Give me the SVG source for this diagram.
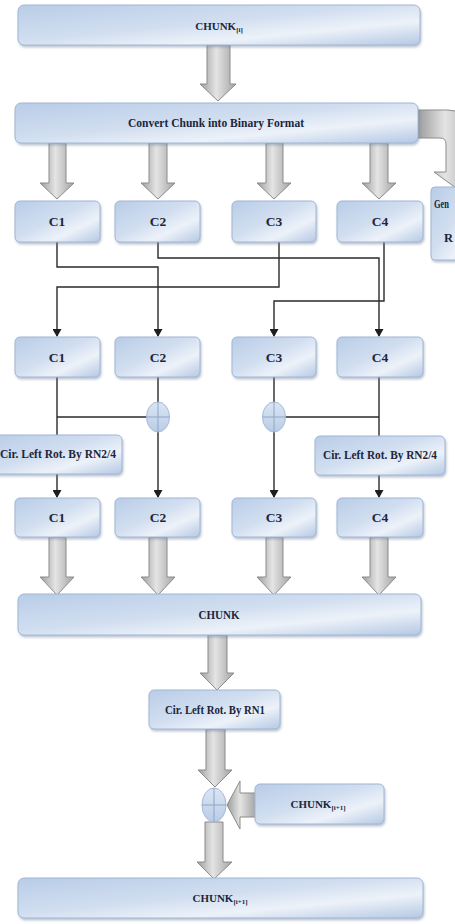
<svg xmlns="http://www.w3.org/2000/svg" width="455" height="924" viewBox="0 0 455 924">
  <defs>
    <linearGradient id="boxFill" x1="0" y1="0" x2="1" y2="1">
      <stop offset="0" stop-color="#b9cde7"/>
      <stop offset="0.45" stop-color="#d1def0"/>
      <stop offset="0.7" stop-color="#edf2f9"/>
      <stop offset="1" stop-color="#b4c8e4"/>
    </linearGradient>
    <linearGradient id="arrowFill" x1="0" y1="0" x2="1" y2="0">
      <stop offset="0" stop-color="#9c9c9c"/>
      <stop offset="0.45" stop-color="#e4e4e4"/>
      <stop offset="1" stop-color="#a3a3a3"/>
    </linearGradient>
    <linearGradient id="xorFill" x1="0" y1="0" x2="0" y2="1">
      <stop offset="0" stop-color="#dbe6f4"/>
      <stop offset="1" stop-color="#b9cce6"/>
    </linearGradient>
    <filter id="shadow" x="-10%" y="-20%" width="120%" height="150%">
      <feDropShadow dx="1" dy="2" stdDeviation="1.3" flood-color="#6f819c" flood-opacity="0.45"/>
    </filter>
    <marker id="tip" markerWidth="8" markerHeight="9" refX="7" refY="4.5" orient="auto" markerUnits="userSpaceOnUse">
      <path d="M0,0 L8,4.5 L0,9 Z" fill="#1e1e1e"/>
    </marker>
  </defs>
  <style>
    .box { fill: url(#boxFill); stroke: #a0b6d5; stroke-width: 1; filter: url(#shadow); }
    .blk { fill: url(#arrowFill); stroke: #8b8b8b; stroke-width: 1; }
    .wire { fill: none; stroke: #2a2a2a; stroke-width: 1.4; }
    .xor { fill: url(#xorFill); stroke: #a5b9d6; stroke-width: 1; }
    .xorx { stroke: #8ea6c7; stroke-width: 1; }
    text { font-family: "Liberation Serif", "Times New Roman", serif; font-weight: bold; font-size: 12.5px; fill: #20263a; text-anchor: middle; }
    .c { font-size: 13.5px; }
    .ck { font-size: 11px; }
    .sub { font-size: 7px; }
  </style>

  <!-- connectors: thin wires -->
  <g id="connectors">
    <path class="wire" d="M57,242 V267 H158 V336" marker-end="url(#tip)"/>
    <path class="wire" d="M158,242 V258 H379 V336" marker-end="url(#tip)"/>
    <path class="wire" d="M279,242 V287 H57 V336" marker-end="url(#tip)"/>
    <path class="wire" d="M384,242 V301 H274 V336" marker-end="url(#tip)"/>

    <path class="wire" d="M57,377 V497" marker-end="url(#tip)"/>
    <path class="wire" d="M57,417 H147"/>
    <path class="wire" d="M158,377 V497" marker-end="url(#tip)"/>
    <path class="wire" d="M274,377 V497" marker-end="url(#tip)"/>
    <path class="wire" d="M379,377 V497" marker-end="url(#tip)"/>
    <path class="wire" d="M379,417 H286"/>

    <!-- block arrows -->
    <path class="blk" d="M207,45 H230 V84 H236 L218,101 L200,84 H207 Z"/>
    <path class="blk" d="M418,110 H448 Q466,110 466,128 V172 H478 L456,188 L434,172 H446 V144 Q446,138 440,138 H418 Z"/>

    <path class="blk" d="M49,143 H66 V183 H74 L57,199 L40,183 H49 Z"/>
    <path class="blk" d="M149,143 H167 V183 H175 L158,199 L141,183 H149 Z"/>
    <path class="blk" d="M266,143 H283 V183 H291 L274,199 L257,183 H266 Z"/>
    <path class="blk" d="M370,143 H388 V183 H396 L379,199 L362,183 H370 Z"/>

    <path class="blk" d="M49,537 H66 V577 H74 L57,595 L40,577 H49 Z"/>
    <path class="blk" d="M149,537 H167 V577 H175 L158,595 L141,577 H149 Z"/>
    <path class="blk" d="M266,537 H283 V577 H291 L274,595 L257,577 H266 Z"/>
    <path class="blk" d="M370,537 H388 V577 H396 L379,595 L362,577 H370 Z"/>

    <path class="blk" d="M208,635 H227 V673 H234 L217,690 L200,673 H208 Z"/>
    <path class="blk" d="M206,729 H225 V770 H232 L215,787 L198,770 H206 Z"/>
    <path class="blk" d="M256,793 H240 V781 L227,805 L240,829 V817 H256 Z"/>
    <path class="blk" d="M205,822 H223 V862 H232 L214,879 L197,862 H205 Z"/>
  </g>

  <!-- input chunk -->
  <g id="chunk-in">
    <rect class="box" x="18" y="5" width="402" height="40" rx="6"/>
    <text class="ck" x="219" y="30">CHUNK<tspan class="sub" dy="2">[i]</tspan></text>
  </g>

  <g id="convert">
    <rect class="box" x="15" y="103" width="403" height="40" rx="6"/>
    <text x="216" y="127" textLength="176" lengthAdjust="spacingAndGlyphs">Convert Chunk into Binary Format</text>
  </g>

  <g id="generate">
    <rect class="box" x="431" y="187" width="50" height="73" rx="4"/>
    <text x="434" y="208" style="text-anchor:start" textLength="15" lengthAdjust="spacingAndGlyphs">Gen</text>
    <text x="444" y="242" style="text-anchor:start">R</text>
  </g>

  <!-- split blocks -->
  <g id="a1"><rect class="box" x="15" y="201" width="85" height="41" rx="5"/><text class="c" x="57" y="226">C1</text></g>
  <g id="a2"><rect class="box" x="115" y="201" width="85" height="41" rx="5"/><text class="c" x="158" y="226">C2</text></g>
  <g id="a3"><rect class="box" x="232" y="201" width="84" height="41" rx="5"/><text class="c" x="274" y="226">C3</text></g>
  <g id="a4"><rect class="box" x="337" y="201" width="86" height="41" rx="5"/><text class="c" x="380" y="226">C4</text></g>

  <!-- shuffled blocks -->
  <g id="b1"><rect class="box" x="15" y="337" width="85" height="40" rx="5"/><text class="c" x="57" y="362">C1</text></g>
  <g id="b2"><rect class="box" x="115" y="337" width="85" height="40" rx="5"/><text class="c" x="158" y="362">C2</text></g>
  <g id="b3"><rect class="box" x="232" y="337" width="84" height="40" rx="5"/><text class="c" x="274" y="362">C3</text></g>
  <g id="b4"><rect class="box" x="337" y="337" width="86" height="40" rx="5"/><text class="c" x="380" y="362">C4</text></g>

  <!-- xor gates -->
  <g id="xor-left">
    <ellipse class="xor" cx="158" cy="417" rx="11.5" ry="15"/>
    <line class="xorx" x1="146.5" y1="417" x2="169.5" y2="417"/>
    <line class="xorx" x1="158" y1="402" x2="158" y2="432"/>
  </g>
  <g id="xor-right">
    <ellipse class="xor" cx="274" cy="417" rx="11.5" ry="15"/>
    <line class="xorx" x1="262.5" y1="417" x2="285.5" y2="417"/>
    <line class="xorx" x1="274" y1="402" x2="274" y2="432"/>
  </g>

  <g id="rot-left">
    <rect class="box" x="-10" y="435" width="132" height="39" rx="5"/>
    <text x="58" y="458" textLength="116" lengthAdjust="spacingAndGlyphs">Cir. Left Rot. By RN2/4</text>
  </g>
  <g id="rot-right">
    <rect class="box" x="315" y="436" width="130" height="39" rx="5"/>
    <text x="380" y="459" textLength="114" lengthAdjust="spacingAndGlyphs">Cir. Left Rot. By RN2/4</text>
  </g>

  <!-- rotated blocks -->
  <g id="c1"><rect class="box" x="15" y="498" width="85" height="39" rx="5"/><text class="c" x="57" y="522">C1</text></g>
  <g id="c2"><rect class="box" x="115" y="498" width="85" height="39" rx="5"/><text class="c" x="158" y="522">C2</text></g>
  <g id="c3"><rect class="box" x="232" y="498" width="84" height="39" rx="5"/><text class="c" x="274" y="522">C3</text></g>
  <g id="c4"><rect class="box" x="337" y="498" width="86" height="39" rx="5"/><text class="c" x="380" y="522">C4</text></g>

  <g id="chunk-merged">
    <rect class="box" x="18" y="594" width="403" height="41" rx="6"/>
    <text class="c" x="219" y="619" textLength="41" lengthAdjust="spacingAndGlyphs">CHUNK</text>
  </g>

  <g id="rot-rn1">
    <rect class="box" x="149" y="690" width="131" height="39" rx="5"/>
    <text x="215" y="714" textLength="100" lengthAdjust="spacingAndGlyphs">Cir. Left Rot. By RN1</text>
  </g>

  <g id="xor-final">
    <ellipse class="xor" cx="214" cy="805" rx="12" ry="17"/>
    <line class="xorx" x1="202" y1="805" x2="226" y2="805"/>
    <line class="xorx" x1="214" y1="788" x2="214" y2="822"/>
  </g>

  <g id="chunk-prev">
    <rect class="box" x="255" y="784" width="129" height="40" rx="5"/>
    <text class="ck" x="318" y="808">CHUNK<tspan class="sub" dy="2">[i+1]</tspan></text>
  </g>

  <g id="chunk-out">
    <rect class="box" x="18" y="878" width="405" height="40" rx="6"/>
    <text class="ck" x="220" y="902">CHUNK<tspan class="sub" dy="2">[i+1]</tspan></text>
  </g>
</svg>
